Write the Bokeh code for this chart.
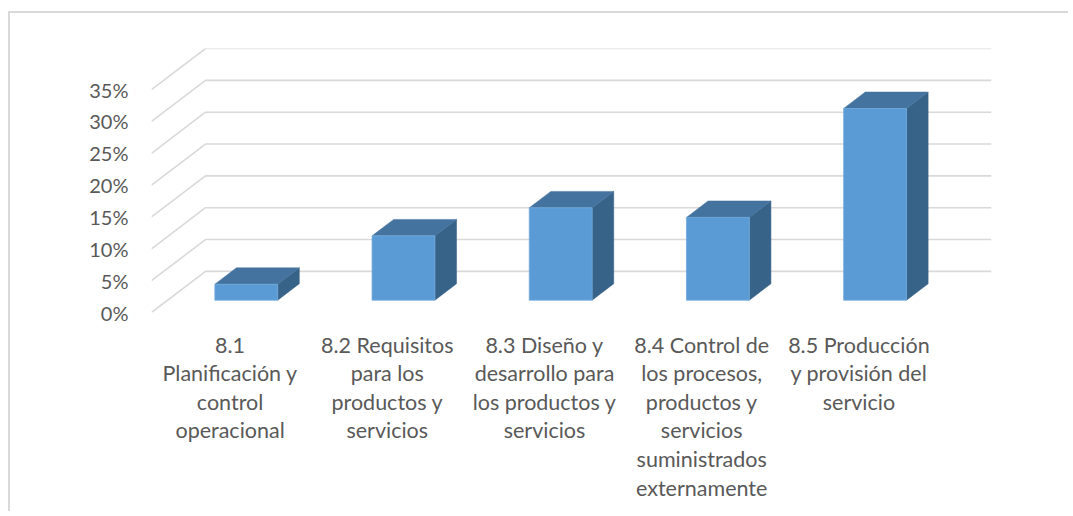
from bokeh.plotting import figure
from bokeh.models import Range1d, FixedTicker, NumeralTickFormatter
from bokeh.embed import file_html
from bokeh.resources import INLINE

# ---- data ----
categories = [
    "8.1\nPlanificación y\ncontrol\noperacional",
    "8.2 Requisitos\npara los\nproductos y\nservicios",
    "8.3 Diseño y\ndesarrollo para\nlos productos y\nservicios",
    "8.4 Control de\nlos procesos,\nproductos y\nservicios\nsuministrados\nexternamente",
    "8.5 Producción\ny provisión del\nservicio",
]
values = [0.025, 0.101, 0.145, 0.130, 0.301]
y_ticks = [0.0, 0.05, 0.10, 0.15, 0.20, 0.25, 0.30, 0.35]

# ---- 3D projection parameters (data units) ----
DX = 0.3435   # horizontal shift for full depth (category units)
DY = 0.0645   # vertical shift for full depth (value units)
HALF_W = 0.2  # half bar width
D0, D1 = 0.3, 0.7  # depth fractions occupied by bar

FRONT_COL = "#5B9BD5"
TOP_COL = "#44739F"
SIDE_COL = "#386389"
GRID_COL = "#D9D9D9"
TEXT_COL = "#595959"
FONT = "Lato"

n = len(categories)

p = figure(
    width=1060, height=500,
    x_range=Range1d(-0.5, n - 0.5 + DX),
    y_range=Range1d(0, 0.35 + DY),
    output_backend="svg", toolbar_location=None,
    min_border_left=141, min_border_right=79,
    min_border_top=35, min_border_bottom=201,
)
p.styles = {"border-top": "2px solid #d9d9d9", "border-left": "2px solid #d9d9d9",
            "margin-top": "11px", "margin-left": "8px"}
p.outline_line_color = None
p.xgrid.visible = False
p.ygrid.visible = False
p.background_fill_color = "white"
p.border_fill_color = "white"

# gridlines (front diagonal + back horizontal)
gx, gy = [], []
for t in y_ticks:
    gx.append([-0.5, -0.5 + DX, n - 0.5 + DX])
    gy.append([t, t + DY, t + DY])
p.multi_line(gx, gy, line_color=GRID_COL, line_width=1.6)

# bars
fx, fy, tx, ty, sx, sy = [], [], [], [], [], []
dd = D1 - D0
for i, v in enumerate(values):
    xl = i - HALF_W + D0 * DX
    xr = i + HALF_W + D0 * DX
    yb = D0 * DY
    yt = yb + v
    fx.append([xl, xr, xr, xl]); fy.append([yb, yb, yt, yt])
    tx.append([xl, xr, xr + dd * DX, xl + dd * DX]); ty.append([yt, yt, yt + dd * DY, yt + dd * DY])
    sx.append([xr, xr + dd * DX, xr + dd * DX, xr]); sy.append([yb, yb + dd * DY, yt + dd * DY, yt])
p.patches(sx, sy, fill_color=SIDE_COL, line_color=SIDE_COL, line_width=0.5)
p.patches(tx, ty, fill_color=TOP_COL, line_color=TOP_COL, line_width=0.5)
p.patches(fx, fy, fill_color=FRONT_COL, line_color="#6FA8DC", line_width=0.8)

# axes
ya = p.yaxis[0]
ya.ticker = FixedTicker(ticks=y_ticks)
ya.formatter = NumeralTickFormatter(format="0%")
ya.axis_line_color = None
ya.major_tick_line_color = None
ya.minor_tick_line_color = None
ya.major_label_standoff = 17
ya.major_label_text_font = FONT
ya.major_label_text_font_size = "20px"
ya.major_label_text_color = TEXT_COL

xa = p.xaxis[0]
xa.ticker = FixedTicker(ticks=list(range(n)))
xa.major_label_overrides = {i: c for i, c in enumerate(categories)}
xa.axis_line_color = None
xa.major_tick_line_color = None
xa.minor_tick_line_color = None
xa.major_label_standoff = 13
xa.major_label_text_font = FONT
xa.major_label_text_font_size = "21.5px"
xa.major_label_text_color = TEXT_COL
xa.major_label_text_line_height = 1.1

open("out.html", "w").write(file_html(p, INLINE))
